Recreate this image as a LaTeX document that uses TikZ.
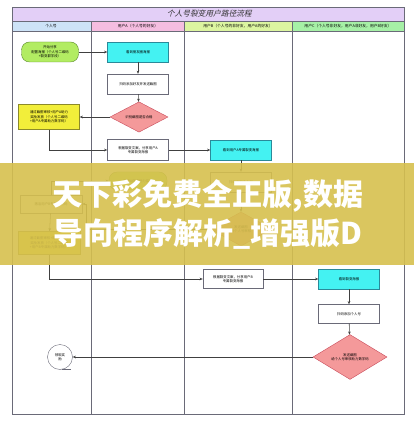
\documentclass[tikz,border=0pt]{standalone}
\usepackage{fontspec}
\setmainfont{Noto Sans CJK SC}
\usepackage{tikz}
\usetikzlibrary{positioning, shapes.geometric, arrows.meta}
\usepackage{xcolor}

\definecolor{frame}{HTML}{6A6A78}
\definecolor{titlebg}{HTML}{E3CFF7}
\definecolor{hdrself}{HTML}{CDE3F7}
\definecolor{hdra}{HTML}{F5BDE0}
\definecolor{hdrb}{HTML}{DCF5A0}
\definecolor{hdrc}{HTML}{A6F0A6}
\definecolor{cyanbox}{HTML}{44F2F2}
\definecolor{cyanline}{HTML}{2A8A9A}
\definecolor{pinkbox}{HTML}{F4999A}
\definecolor{redline}{HTML}{C84A5A}
\definecolor{yellowbox}{HTML}{F2EE3A}
\definecolor{yellowline}{HTML}{8C8A2A}
\definecolor{greenbox}{HTML}{B2EC62}
\definecolor{greenline}{HTML}{5A8A2A}
\definecolor{arrowc}{HTML}{404040}
\definecolor{bannerc}{HTML}{D6C04E}

\begin{document}
\begin{tikzpicture}[
    x=1pt, y=-1pt,
    >={Stealth[length=3.2pt, width=2.6pt]},
    tiny/.style={font=\fontsize{3.4}{4.3}\selectfont},
    proc/.style={tiny, draw=frame, fill=white, minimum width=61pt, minimum height=20pt, align=center, inner sep=1pt},
    look/.style={proc, fill=cyanbox, draw=cyanline},
    reward/.style={proc, fill=yellowbox, draw=yellowline, minimum height=25pt},
    startbox/.style={proc, rounded corners=8pt, fill=greenbox, draw=greenline, minimum width=57pt},
    check/.style={tiny, diamond, draw=redline, fill=pinkbox, inner sep=0pt, minimum width=58pt, minimum height=25pt, align=center},
    hdr/.style={font=\fontsize{3.8}{4.5}\selectfont\itshape, inner sep=0pt},
    flow/.style={->, draw=arrowc, line width=0.55pt},
    adtext/.style={font=\fontsize{30}{32}\selectfont\bfseries, text=white, inner sep=0pt}
]
    \useasboundingbox (0,0) rectangle (414,430);

    % Frame: title bar, lane headers, four lanes
    \filldraw[fill=titlebg, draw=frame, line width=0.6pt] (12,7) rectangle (404,21);
    \filldraw[fill=hdrself, draw=frame, line width=0.6pt] (12,21) rectangle (91,31);
    \filldraw[fill=hdra, draw=frame, line width=0.6pt] (91,21) rectangle (184,31);
    \filldraw[fill=hdrb, draw=frame, line width=0.6pt] (184,21) rectangle (292,31);
    \filldraw[fill=hdrc, draw=frame, line width=0.6pt] (292,21) rectangle (404,31);
    \draw[frame, line width=0.6pt] (12,31) rectangle (91,414) (91,31) rectangle (184,414)
        (184,31) rectangle (292,414) (292,31) rectangle (404,414);

    \node[xslant=0.25, font=\fontsize{7.7}{8}\selectfont, text=black!80] (title) at (210,14) {个人号裂变用户路径流程};
    \node[hdr] (laneself) at (51,26) {个人号};
    \node[hdr] (lanea) at (138,26) {用户A（个人号的好友）};
    \node[hdr] (laneb) at (238,26) {用户B（个人号的非好友，用户A的好友）};
    \node[hdr] (lanec) at (348,26) {用户C（个人号非好友，用户A非好友，用户B好友）};

    % First round: user A
    \node[startbox] (start) at (50,52) {开始分享\\配置海报（个人号二维码\\+裂变群字段）};
    \node[look] (seeA) at (138,52) {看到朋友圈海报};
    \node[proc] (scanA) at (138,84) {扫码添加好友并发送截图};
    \node[check] (checkA) at (139,117) {识别截图是否合格};
    \node[reward] (rewardA) at (49,117) {通过截图审核+用户A助力\\奖励发放（个人号二维码\\+用户A专属助力数字码）};
    \node[proc, minimum height=21pt] (shareA) at (138,150) {根据裂变文案，分享用户A\\专属裂变海报};

    % Second round: user B
    \node[look] (seeB) at (241,150) {看到用户A专属裂变海报};
    \node[proc] (scanB) at (241,182) {扫码添加个人号};
    \node[startbox, minimum width=58pt, minimum height=18pt] (doneA) at (138,181) {用户A获得助力奖励};
    \node[check, minimum width=62pt, minimum height=34pt] (checkB) at (241,229) {发送截图\\给个人号审核};
    \node[proc, minimum width=62pt, minimum height=18pt] (activeS) at (51,204) {激活用户B专属助力码};
    \node[reward, minimum width=62pt, minimum height=23pt] (rewardB) at (49,243) {通过截图审核+用户B助力\\奖励发放（个人号二维码\\+用户B专属助力数字码）};
    \node[proc, minimum width=60pt, minimum height=19pt] (shareB) at (233,279) {根据裂变文案，分享用户B\\专属裂变海报};

    % Third round: user C
    \node[look] (seeC) at (349,279) {看到裂变海报};
    \node[proc, minimum height=19pt] (scanC) at (349,314) {扫码添加个人号};
    \node[check, minimum width=74pt] (checkC) at (350,357) {发送截图\\给个人号审核助力数字码};
    \node[tiny, circle, draw=frame, fill=white, minimum size=25pt, inner sep=0pt, align=center] (claim) at (60,357) {领取奖\\励};
    \draw[frame, line width=0.5pt] (claim.-80) -- ++(9,0);

    % Connectors
    \path[flow]
        (start) edge (seeA)
        (seeA) edge (scanA)
        (scanA) edge (checkA)
        (checkA) edge (rewardA)
        (shareA) edge (seeB)
        (seeB) edge (scanB)
        (scanB) edge (checkB)
        (activeS) edge (rewardB)
        (shareB) edge (seeC)
        (seeC) edge (scanC)
        (scanC) edge (checkC)
        (checkC) edge (claim);
    \draw[flow] (rewardA.south) |- (shareA.west);
    \draw[flow] (rewardB.south) |- (shareB.west);
    \coordinate (turnB) at (86,229);
    \draw[flow] (checkB.west) -- (turnB) |- (activeS.east);
    \draw[flow] (activeS.north) |- (doneA.west);

    % Banner laid over the chart
    \fill[bannerc, opacity=0.9] (0,163) rectangle (414,265);
    \node[adtext] (adone) at (208,196) {天下彩免费全正版,数据};
    \node[adtext] (adtwo) at (208,234) {导向程序解析\_增强版D};
\end{tikzpicture}
\end{document}
